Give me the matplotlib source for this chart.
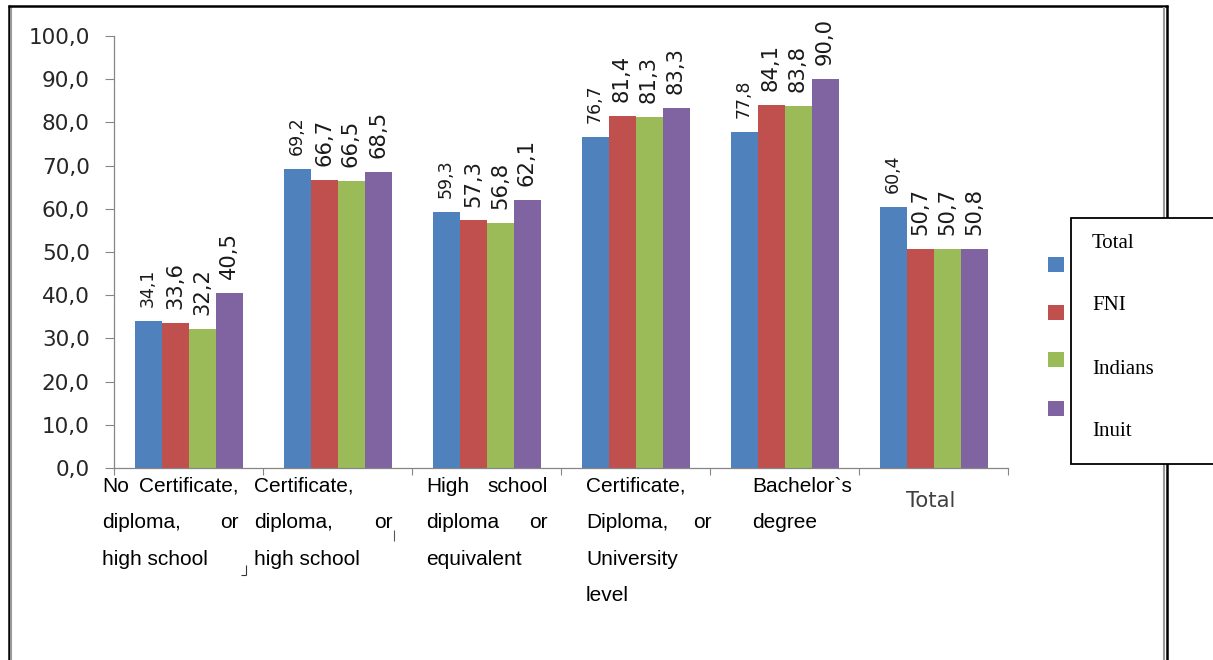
import numpy as np
import matplotlib
matplotlib.use("Agg")
import matplotlib.pyplot as plt
from matplotlib.lines import Line2D
from matplotlib.patches import Rectangle

# education level vs. share of population, by group
categories = [
    ["No Certificate,", "diploma, or", "high school"],
    ["Certificate,", "diploma, or", "high school"],
    ["High school", "diploma or", "equivalent"],
    ["Certificate,", "Diploma, or", "University", "level"],
    ["Bachelor`s", "degree"],
    ["Total"],
]
series_names = ["Total", "FNI", "Indians", "Inuit"]
total = [34.1, 69.2, 59.3, 76.7, 77.8, 60.4]
fni = [33.6, 66.7, 57.3, 81.4, 84.1, 50.7]
indians = [32.2, 66.5, 56.8, 81.3, 83.8, 50.7]
inuit = [40.5, 68.5, 62.1, 83.3, 90.0, 50.8]
yticks = np.arange(0, 101, 10)

colors = ["#4F81BD", "#C0504D", "#9BBB59", "#8064A2"]
W, H = 1213, 660

def fx(x):
    return x / W

def fy(y):
    return 1 - y / H

def rule(xs, ys, color, lw):
    fig.add_artist(Line2D([fx(v) for v in xs], [fy(v) for v in ys],
                          color=color, lw=lw, solid_capstyle="butt"))

fig = plt.figure(figsize=(W / 100, H / 100), dpi=100)
ax = fig.add_axes([fx(114), fy(468), fx(1008 - 114), (468 - 36) / H])

x = np.arange(len(categories))
bw = 27 / 149
for i, (vals, col) in enumerate(zip([total, fni, indians, inuit], colors)):
    pos = x + (i - 1.5) * bw
    ax.bar(pos, vals, bw, color=col, linewidth=0)
    for p, v in zip(pos, vals):
        ax.annotate(f"{v:.1f}".replace(".", ","), (p, v), xytext=(0, 10),
                    textcoords="offset points", rotation=90, ha="center",
                    va="bottom", fontsize=12.5 if i == 0 else 15.2,
                    color="#1a1a1a")

ax.set_xlim(-0.5, 5.5)
ax.set_ylim(0, 100)
ax.set_yticks(yticks)
ax.set_yticklabels([f"{t:.1f}".replace(".", ",") for t in yticks],
                   fontsize=15.5, color="#262626")
ax.set_xticks(np.arange(-0.5, 6, 1))
ax.set_xticklabels([])
ax.tick_params(axis="y", length=6.5, width=0.8, color="#868686", pad=11)
ax.tick_params(axis="x", length=5, width=0.8, color="#868686")
for s in ["top", "right"]:
    ax.spines[s].set_visible(False)
for s in ["left", "bottom"]:
    ax.spines[s].set_color("#868686")
    ax.spines[s].set_linewidth(0.9)

# category labels, justified like a text table under the axis
boxes = [(102, 239), (254, 393), (426, 548), (586, 712), (752, 860)]
for lines, (left, right) in zip(categories[:5], boxes):
    for j, line in enumerate(lines):
        yy = fy(486 + j * 36.6)
        words = line.split()
        last = j == len(lines) - 1
        if len(words) > 1 and not last:
            fig.text(fx(left), yy, words[0], ha="left", va="center",
                     family="Liberation Sans", fontsize=15)
            fig.text(fx(right), yy, words[-1], ha="right", va="center",
                     family="Liberation Sans", fontsize=15)
        else:
            fig.text(fx(left), yy, line, ha="left", va="center",
                     family="Liberation Sans", fontsize=15)
fig.text(fx(931), fy(501), categories[5][0], ha="center", va="center",
         fontsize=15.2, color="#404040")

# stray table rule fragments
rule([246, 246], [565, 575], "#333333", 0.8)
rule([241, 246], [575, 575], "#333333", 0.8)
rule([394, 394], [530, 541], "#555555", 0.8)

# outer frame
rule([8.5, 8.5], [5, 670], "black", 1.8)
rule([11, 11], [7, 670], "#9a9a9a", 1.5)
rule([7.5, 1167.5], [6, 6], "black", 1.8)
rule([1166.5, 1166.5], [5, 670], "black", 1.8)
rule([1163.8, 1163.8], [7, 670], "#9a9a9a", 1.5)

# legend: box with names, swatches sitting outside on the left
fig.add_artist(Rectangle((fx(1071), fy(464)), fx(1230 - 1071), (464 - 218) / H,
                         facecolor="white", edgecolor="black", lw=1.3,
                         transform=fig.transFigure, zorder=5))
label_y = [243, 306, 369, 432]
swatch_y = [264, 312, 360, 408]
for name, col, ly, sy in zip(series_names, colors, label_y, swatch_y):
    fig.add_artist(Rectangle((fx(1048), fy(sy + 7.5)), fx(16), 15 / H,
                             facecolor=col, edgecolor="none",
                             transform=fig.transFigure, zorder=6))
    fig.text(fx(1092), fy(ly), name, ha="left", va="center",
             family="Liberation Serif", fontsize=15, zorder=7)

fig.savefig("out.png", dpi=100)
